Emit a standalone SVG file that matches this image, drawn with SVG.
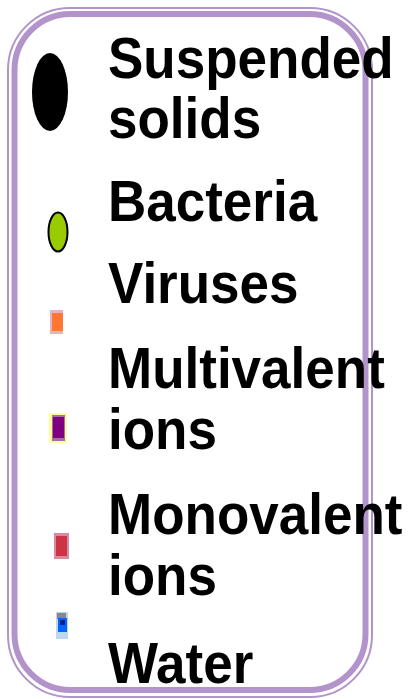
<svg xmlns="http://www.w3.org/2000/svg" width="409" height="699" viewBox="0 0 409 699">
<style>
.lbl{font-family:"Liberation Sans",Arial,sans-serif;font-weight:bold;font-size:53px;fill:#000}
.frame{fill:none;stroke:#b293cb}
</style>
<rect width="409" height="699" fill="#fff"/>
<g id="frame">
<rect class="frame" x="8" y="8" width="364" height="689" rx="62" ry="62" stroke-width="2"/>
<rect class="frame" x="14.5" y="14" width="351" height="676" rx="56" ry="56" stroke-width="6"/>
</g>
<g id="suspended">
<ellipse cx="50" cy="92" rx="18" ry="39" fill="#000"/>
<text class="lbl" transform="translate(108,78) scale(1,1.08)">Suspended</text>
<text class="lbl" transform="translate(108,138) scale(1,1.08)">solids</text>
</g>
<g id="bacteria">
<ellipse cx="58" cy="232" rx="9.5" ry="19.5" fill="#99cc00" stroke="#000" stroke-width="2"/>
<text class="lbl" transform="translate(108,221) scale(1,1.08)">Bacteria</text>
</g>
<g id="viruses">
<rect x="50" y="310" width="13" height="24" fill="#e8b0c0"/>
<rect x="52" y="313" width="11" height="18" fill="#ff7733"/>
<text class="lbl" transform="translate(108,303) scale(1,1.08)">Viruses</text>
</g>
<g id="multivalent">
<rect x="49" y="413" width="18" height="30" fill="#ffff99"/>
<rect x="52" y="415" width="13" height="26" fill="#a070a0"/>
<rect x="53" y="417" width="11" height="21" fill="#800080"/>
<text class="lbl" transform="translate(108,388) scale(1,1.08)">Multivalent</text>
<text class="lbl" transform="translate(108,449) scale(1,1.08)">ions</text>
</g>
<g id="monovalent">
<rect x="54" y="533" width="15" height="26" fill="#d88aa0"/>
<rect x="56" y="536" width="11" height="20" fill="#cc3344"/>
<text class="lbl" transform="translate(108,534) scale(1,1.08)">Monovalent</text>
<text class="lbl" transform="translate(108,595) scale(1,1.08)">ions</text>
</g>
<g id="water">
<rect x="56" y="612" width="12" height="27" fill="#bcd8f0"/>
<rect x="57" y="613" width="9" height="6" fill="#888"/>
<rect x="58" y="618" width="9" height="14" fill="#0066ff"/>
<rect x="60" y="620" width="5" height="5" fill="#002090"/>
<text class="lbl" transform="translate(108,683) scale(1,1.08)">Water</text>
</g>
</svg>
